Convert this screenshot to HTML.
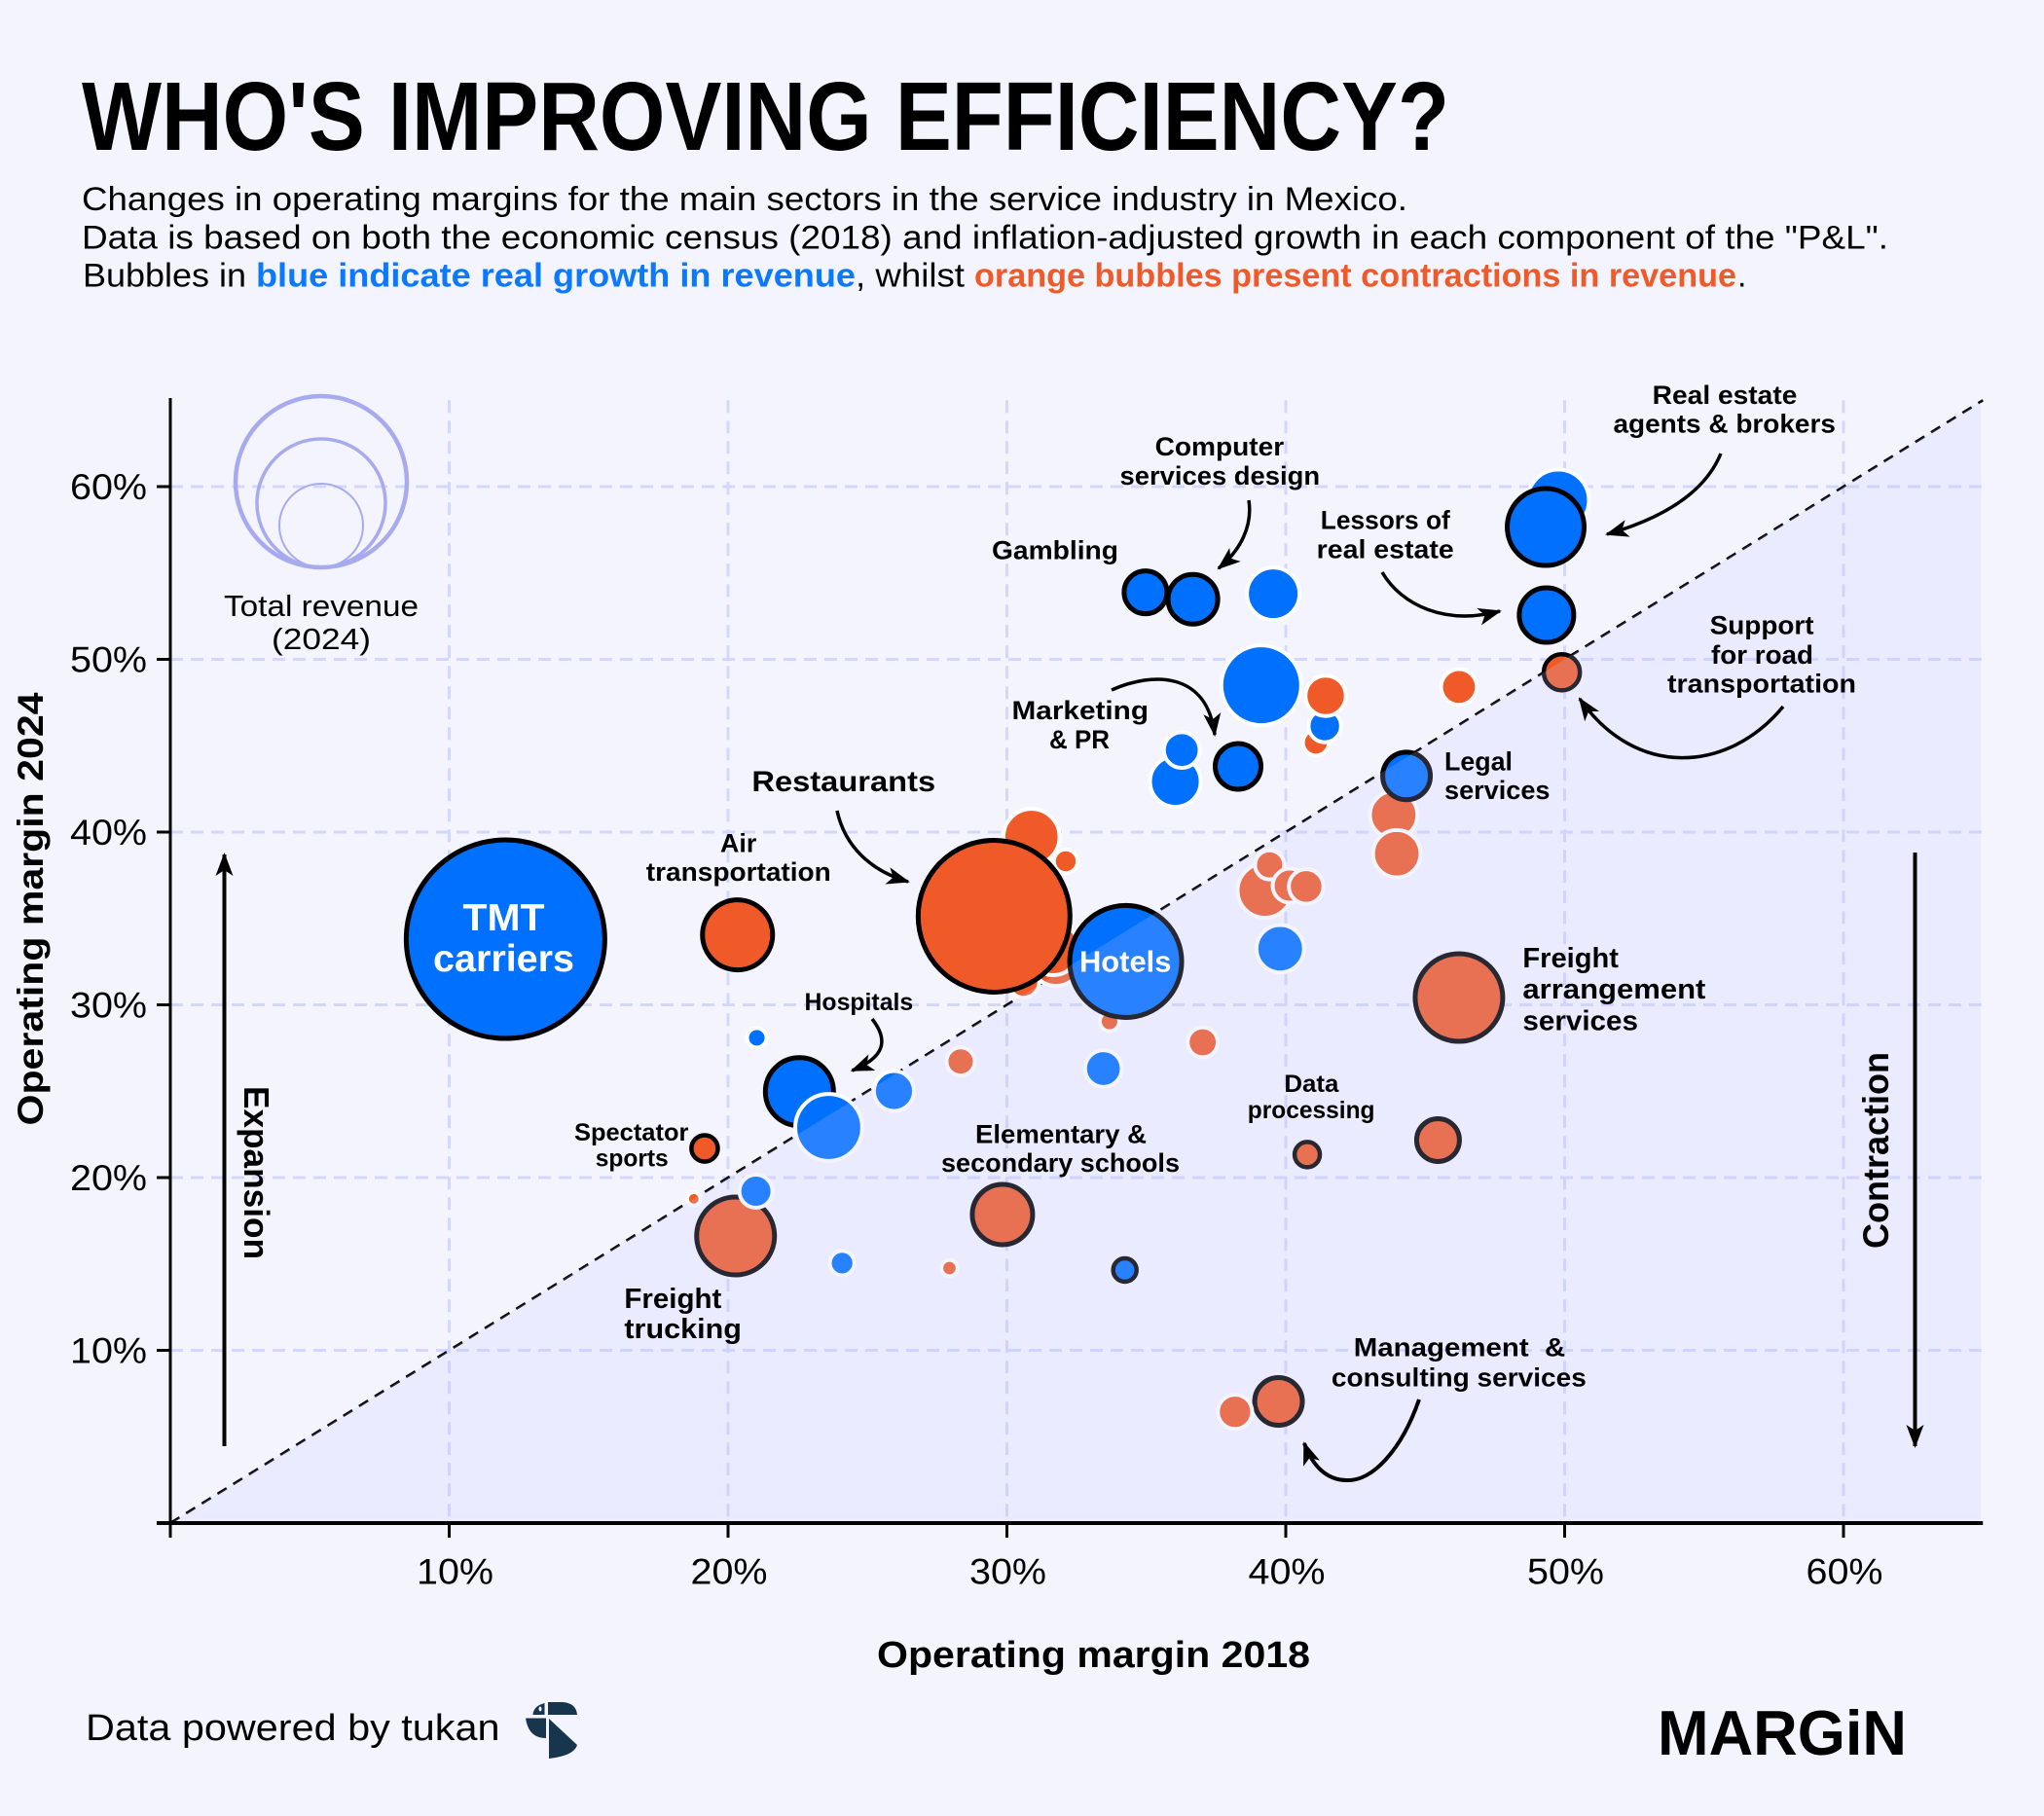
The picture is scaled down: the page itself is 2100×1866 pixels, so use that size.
<!DOCTYPE html>
<html lang="en">
<head>
<meta charset="utf-8">
<title>Who's improving efficiency?</title>
<style>
html,body{margin:0;padding:0;background:#f4f4ff;}
svg{display:block;}
text{font-family:"Liberation Sans",sans-serif;fill:#000;}
.b{font-weight:700;}
.lbl{font-weight:700;font-size:27px;}
.sub{font-size:34px;}
.tick{font-size:37px;}
</style>
</head>
<body>
<svg id="chart" xmlns="http://www.w3.org/2000/svg" width="2100" height="1866" viewBox="0 0 2100 1866">
<defs>
<marker id="head" markerUnits="userSpaceOnUse" markerWidth="24" markerHeight="20" viewBox="0 0 24 20" refX="22" refY="10" orient="auto">
<path d="M0 1 L24 10 L0 19 L6 10 Z" fill="#000"/>
</marker>
</defs>
<rect width="2100" height="1866" fill="#f4f4ff"/>

<text class="b" x="84" y="154" font-size="100" textLength="1405" lengthAdjust="spacingAndGlyphs">WHO'S IMPROVING EFFICIENCY?</text>
<text class="sub" x="84" y="216" textLength="1362" lengthAdjust="spacingAndGlyphs">Changes in operating margins for the main sectors in the service industry in Mexico.</text>
<text class="sub" x="84" y="255.5" textLength="1856" lengthAdjust="spacingAndGlyphs">Data is based on both the economic census (2018) and inflation-adjusted growth in each component of the "P&amp;L".</text>
<text class="sub" x="85" y="294.5" textLength="168" lengthAdjust="spacingAndGlyphs">Bubbles in</text>
<text class="sub b" x="263" y="294.5" textLength="616" lengthAdjust="spacingAndGlyphs" style="fill:#0a78ff">blue indicate real growth in revenue</text>
<text class="sub" x="879" y="294.5" textLength="112" lengthAdjust="spacingAndGlyphs">, whilst</text>
<text class="sub b" x="1001" y="294.5" textLength="783" lengthAdjust="spacingAndGlyphs" style="fill:#f05a28">orange bubbles present contractions in revenue</text>
<text class="sub" x="1785" y="294.5">.</text>

<g id="grid"></g>
<g id="diagonal"></g>
<g id="bubbles"></g>
<g id="overlay"></g>
<g id="axes"></g>

<g fill="none" stroke="#a8aaf0">
<circle cx="330" cy="495" r="88" stroke-width="4.5"/>
<circle cx="330" cy="517" r="66" stroke-width="3.5"/>
<circle cx="330" cy="540" r="43" stroke-width="2"/>
</g>
<text x="230" y="633" font-size="31" textLength="200" lengthAdjust="spacingAndGlyphs">Total revenue</text>
<text x="279" y="667" font-size="31" textLength="102" lengthAdjust="spacingAndGlyphs">(2024)</text>

<text class="b" font-size="37" transform="translate(44 1156.5) rotate(-90)" textLength="445" lengthAdjust="spacingAndGlyphs">Operating margin 2024</text>
<text class="b" font-size="38" x="901" y="1713" textLength="445" lengthAdjust="spacingAndGlyphs">Operating margin 2018</text>

<line x1="230.5" y1="1486" x2="230.5" y2="878" stroke="#000" stroke-width="4" marker-end="url(#head)"/>
<text class="b" font-size="36" transform="translate(251 1116) rotate(90)" textLength="178" lengthAdjust="spacingAndGlyphs">Expansion</text>
<line x1="1967.5" y1="876" x2="1967.5" y2="1486" stroke="#000" stroke-width="4" marker-end="url(#head)"/>
<text class="b" font-size="37" transform="translate(1940 1283) rotate(-90)" textLength="202" lengthAdjust="spacingAndGlyphs">Contraction</text>

<g fill="none" stroke="#000" stroke-width="3.5">
<path d="M1768 466 Q1745 522 1651 549" marker-end="url(#head)"/>
<path d="M1283 514 C1287 540 1275 565 1252 584" marker-end="url(#head)"/>
<path d="M1420 588 C1440 622 1485 643 1541 628" marker-end="url(#head)"/>
<path d="M1832 726 C1775 795 1680 800 1623 718" marker-end="url(#head)"/>
<path d="M1142 709 C1185 690 1240 690 1248 755" marker-end="url(#head)"/>
<path d="M860 833 C868 870 895 895 933 906" marker-end="url(#head)"/>
<path d="M896 1047 C918 1075 900 1090 875.5 1100" marker-end="url(#head)"/>
<path d="M1458 1438 C1440 1490 1410 1522 1384 1521 C1362 1521 1348 1505 1340 1483" stroke-width="4" marker-end="url(#head)"/>
</g>

<text class="lbl" x="1697.7" y="415" textLength="148.7" lengthAdjust="spacingAndGlyphs">Real estate</text>
<text class="lbl" x="1657.5" y="444.7" textLength="228.4" lengthAdjust="spacingAndGlyphs">agents &amp; brokers</text>
<text class="lbl" x="1186.6" y="468" textLength="132.6" lengthAdjust="spacingAndGlyphs">Computer</text>
<text class="lbl" x="1150.5" y="498" textLength="205.6" lengthAdjust="spacingAndGlyphs">services design</text>
<text class="lbl" x="1356.8" y="543.4" textLength="133" lengthAdjust="spacingAndGlyphs">Lessors of</text>
<text class="lbl" x="1352.7" y="573.7" textLength="141" lengthAdjust="spacingAndGlyphs">real estate</text>
<text class="lbl" x="1019" y="574.5" textLength="130" lengthAdjust="spacingAndGlyphs">Gambling</text>
<text class="lbl" x="1039.5" y="739" textLength="140.5" lengthAdjust="spacingAndGlyphs">Marketing</text>
<text class="lbl" x="1078" y="769" textLength="62" lengthAdjust="spacingAndGlyphs">&amp; PR</text>
<text class="lbl" x="1756.6" y="651.4" textLength="107" lengthAdjust="spacingAndGlyphs">Support</text>
<text class="lbl" x="1758" y="681.8" textLength="105" lengthAdjust="spacingAndGlyphs">for road</text>
<text class="lbl" x="1713" y="711.7" textLength="194" lengthAdjust="spacingAndGlyphs">transportation</text>
<text class="lbl" x="1484" y="791.6" textLength="70" lengthAdjust="spacingAndGlyphs">Legal</text>
<text class="lbl" x="1484" y="821" textLength="108.5" lengthAdjust="spacingAndGlyphs">services</text>
<text class="lbl" style="font-size:29px" x="1564.4" y="993.8" textLength="98.5" lengthAdjust="spacingAndGlyphs">Freight</text>
<text class="lbl" style="font-size:29px" x="1564.4" y="1026" textLength="188" lengthAdjust="spacingAndGlyphs">arrangement</text>
<text class="lbl" style="font-size:29px" x="1564.4" y="1058.6" textLength="118.6" lengthAdjust="spacingAndGlyphs">services</text>
<text class="lbl" style="font-size:31px;fill:#fff" x="1109" y="998.3" textLength="94.4" lengthAdjust="spacingAndGlyphs">Hotels</text>
<text class="lbl" style="font-size:39px;fill:#fff" x="475.5" y="956" textLength="84" lengthAdjust="spacingAndGlyphs">TMT</text>
<text class="lbl" style="font-size:39px;fill:#fff" x="445" y="998" textLength="145" lengthAdjust="spacingAndGlyphs">carriers</text>
<text class="lbl" style="font-size:30px" x="772.4" y="813" textLength="188.8" lengthAdjust="spacingAndGlyphs">Restaurants</text>
<text class="lbl" x="740" y="875.7" textLength="37.3" lengthAdjust="spacingAndGlyphs">Air</text>
<text class="lbl" x="663.8" y="905" textLength="190" lengthAdjust="spacingAndGlyphs">transportation</text>
<text class="lbl" style="font-size:25px" x="826.5" y="1038" textLength="111.7" lengthAdjust="spacingAndGlyphs">Hospitals</text>
<text class="lbl" style="font-size:25px" x="590" y="1172" textLength="117.4" lengthAdjust="spacingAndGlyphs">Spectator</text>
<text class="lbl" style="font-size:25px" x="611.7" y="1198.6" textLength="75" lengthAdjust="spacingAndGlyphs">sports</text>
<text class="lbl" x="1002" y="1174.6" textLength="176" lengthAdjust="spacingAndGlyphs">Elementary &amp;</text>
<text class="lbl" x="967" y="1204" textLength="245" lengthAdjust="spacingAndGlyphs">secondary schools</text>
<text class="lbl" style="font-size:29px" x="641.4" y="1344" textLength="100" lengthAdjust="spacingAndGlyphs">Freight</text>
<text class="lbl" style="font-size:29px" x="641.4" y="1375" textLength="120.5" lengthAdjust="spacingAndGlyphs">trucking</text>
<text class="lbl" style="font-size:25px" x="1319.4" y="1122" textLength="56" lengthAdjust="spacingAndGlyphs">Data</text>
<text class="lbl" style="font-size:25px" x="1281.8" y="1149" textLength="130.7" lengthAdjust="spacingAndGlyphs">processing</text>
<text class="lbl" x="1390.8" y="1393.6" textLength="217.5" lengthAdjust="spacingAndGlyphs" xml:space="preserve">Management  &amp;</text>
<text class="lbl" x="1367.9" y="1424.6" textLength="262" lengthAdjust="spacingAndGlyphs">consulting services</text>

<text x="88" y="1788" font-size="38" textLength="425.5" lengthAdjust="spacingAndGlyphs">Data powered by tukan</text>
<g fill="#17354d">
<path d="M563 1749 H578 Q592 1750 593 1762 H563 Z"/>
<path d="M559.5 1750 V1762 H547.5 Q548 1753 559.5 1750 Z"/>
<ellipse cx="555" cy="1756" rx="1.5" ry="2.5" fill="#f4f4ff"/>
<path d="M540 1765.5 H561 V1786 Q543 1786 540 1765.5 Z"/>
<path d="M564 1766 L593 1793 Q590 1804 564 1807 Z"/>
</g>
<text class="b" x="1703" y="1803" font-size="65" textLength="256" lengthAdjust="spacingAndGlyphs">MARGiN</text>

<script>
const sectors = ['other-a','other-b','other-c','other-d','other-e','other-f','restaurants','hotels','tmt-carriers','air-transportation','other-g','other-h','other-i','freight-arrangement','data-processing','other-j','management-consulting','other-k','other-l','other-m','other-n','elementary-secondary-schools','freight-trucking','other-o','other-p','spectator-sports','hospitals','other-q','other-r','other-s','other-t','other-u','real-estate-agents','lessors-real-estate','support-road-transport','computer-services-design','gambling','other-v','other-w','other-x','other-y','other-z','other-aa','marketing-pr','other-ab','other-ac','other-ad','other-ae','legal-services','other-af','other-ag','other-ah','other-ai'];
const margin2018 = [30.88,32.11,31.76,31.66,30.60,33.68,29.54,34.26,12.02,20.34,37.02,33.46,39.80,46.21,40.77,45.46,39.74,38.18,34.23,27.94,24.09,29.84,20.27,21.00,18.77,19.16,22.56,23.61,25.95,28.34,21.03,49.77,49.32,49.35,49.90,36.67,34.97,39.55,39.12,41.08,41.40,41.43,46.21,38.29,36.04,36.27,43.87,43.98,44.33,39.25,39.42,40.14,40.73];
const margin2024 = [39.72,38.31,32.56,33.24,31.32,29.04,35.13,32.51,33.80,34.05,27.83,26.31,33.25,30.42,21.33,22.17,7.04,6.44,14.65,14.76,15.05,17.86,16.62,19.21,18.77,21.69,24.97,22.90,25.01,26.72,28.09,59.21,57.66,52.56,49.25,53.48,53.88,53.80,48.50,45.18,46.14,47.89,48.40,43.80,42.93,44.75,41.00,38.75,43.25,36.62,38.10,36.90,36.85];
const revenue2024 = [180,26,144,156,49,16,1521,827,2601,324,45,71,125,506,42,121,150,61,36,10,28,240,400,56,6,46,306,262,86,39,16,218,390,196,86,163,121,156,380,32,54,88,67,138,144,67,125,125,150,169,42,60,62];
const revenueGrew = [0,0,0,0,0,0,0,1,1,0,0,1,1,0,0,0,0,0,1,0,1,0,0,1,0,0,1,1,1,0,1,1,1,1,0,1,1,1,1,0,1,0,0,1,1,1,0,0,1,0,0,0,0];
const highlighted = [0,0,0,0,0,0,1,1,1,1,0,0,0,1,1,1,1,0,1,0,0,1,1,0,0,1,1,0,0,0,0,0,1,1,1,1,1,0,0,0,0,0,0,1,0,0,0,0,1,0,0,0,0];
const xTickValues = [0,10,20,30,40,50,60];
const yTickValues = [10,20,30,40,50,60];
const xTickLabels = ['','10%','20%','30%','40%','50%','60%'];
const yTickLabels = ['10%','20%','30%','40%','50%','60%'];
const axisMax = [65];

const NS = 'http://www.w3.org/2000/svg';
function xScale(v){ return 175 + 28.65 * v; }
function yScale(v){ return 1565 - 17.75 * v; }
function rScale(v){ return 2 * Math.sqrt(v); }
function make(tag, parent, attrs){
  const el = document.createElementNS(NS, tag);
  for (const k in attrs) el.setAttribute(k, attrs[k]);
  parent.appendChild(el);
  return el;
}
const gridG = document.getElementById('grid');
const diagG = document.getElementById('diagonal');
const bubG = document.getElementById('bubbles');
const overG = document.getElementById('overlay');
const axG = document.getElementById('axes');
const top65 = axisMax[0];

xTickValues.slice(1).forEach(function(v){
  const l = make('line', gridG, {x1:xScale(v), x2:xScale(v), y1:yScale(top65), y2:yScale(0), stroke:'#d3d6ff', 'stroke-width':3, 'stroke-dasharray':'13 8'});
  
  
});
yTickValues.forEach(function(v){
  const l = make('line', gridG, {x1:xScale(0), x2:xScale(top65), y1:yScale(v), y2:yScale(v), stroke:'#d3d6ff', 'stroke-width':3, 'stroke-dasharray':'13 8'});
  
  
});

const diag = make('line', diagG, {x1:xScale(0), y1:yScale(0), x2:xScale(top65), y2:yScale(top65), stroke:'#000', 'stroke-width':2.6, 'stroke-dasharray':'11 8'});



sectors.forEach(function(name, i){
  const outlined = highlighted[i] === 1;
  const r = rScale(revenue2024[i]);
  const c = make('circle', bubG, {
    cx: xScale(margin2018[i]),
    cy: yScale(margin2024[i]),
    r: outlined ? r : r + 2,
    fill: revenueGrew[i] === 1 ? '#0070ff' : '#f05a28',
    stroke: outlined ? '#000' : '#fff',
    'stroke-width': outlined ? (r > 20 ? 5 : 4.5) : 4
  });
  
  
});

const zone = make('polygon', overG, {
  points: xScale(0)+','+yScale(0)+' '+xScale(top65)+','+yScale(top65)+' '+(xScale(top65)-2)+','+yScale(top65)+' '+(xScale(top65)-2)+','+yScale(0),
  fill: 'rgb(200,200,255)', 'fill-opacity': 0.2
});



const yAxis = make('line', axG, {x1:xScale(0), x2:xScale(0), y1:409, y2:yScale(0), stroke:'#000', 'stroke-width':3});


const xAxis = make('line', axG, {x1:161, x2:xScale(top65), y1:yScale(0), y2:yScale(0), stroke:'#000', 'stroke-width':4});



xTickValues.forEach(function(v, i){
  const t = make('line', axG, {x1:xScale(v), x2:xScale(v), y1:yScale(0), y2:yScale(0)+15, stroke:'#000', 'stroke-width':3});
  
  
  if (xTickLabels[i]) {
    const lab = make('text', axG, {x:xScale(v)-39.5+(v===10?6:1), y:1627.5, class:'tick', textLength:79, lengthAdjust:'spacingAndGlyphs'});
    lab.textContent = xTickLabels[i];
    
    
  }
});
yTickValues.forEach(function(v, i){
  const t = make('line', axG, {x1:161, x2:xScale(0), y1:yScale(v), y2:yScale(v), stroke:'#000', 'stroke-width':3});
  
  
  const lab = make('text', axG, {x:72, y:yScale(v)+13, class:'tick', textLength:79, lengthAdjust:'spacingAndGlyphs'});
  lab.textContent = yTickLabels[i];
  
  
});
</script>
</svg>
</body>
</html>
